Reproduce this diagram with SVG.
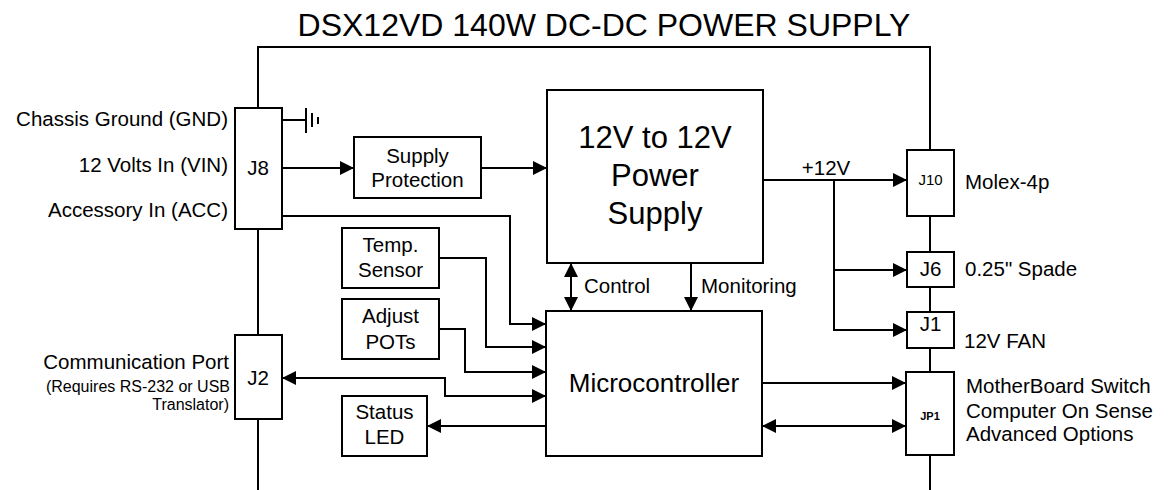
<svg xmlns="http://www.w3.org/2000/svg" width="1169" height="490" viewBox="0 0 1169 490">
<style>
text{font-family:"Liberation Sans",Arial,sans-serif;fill:#000}
.box{fill:#fff;stroke:#000;stroke-width:2}
.ln{fill:none;stroke:#000;stroke-width:2}
.c{text-anchor:middle}
.r{text-anchor:end}
.t20{font-size:20.5px}
.t16{font-size:16px}
</style>
<defs>
<marker id="ah" markerUnits="userSpaceOnUse" markerWidth="15" markerHeight="14" refX="14" refY="7" orient="auto-start-reverse" viewBox="0 0 15 14">
<path d="M0,0 L14,7 L0,14 z" fill="#000"/>
</marker>
</defs>
<rect width="1169" height="490" fill="#fff"/>
<text x="604" y="36" class="c" font-size="32">DSX12VD 140W DC-DC POWER SUPPLY</text>
<g id="connectors">
<path class="ln" d="M258,108 V47 H930 V150"/>
<path class="ln" d="M258,229 V335"/>
<path class="ln" d="M258,419 V490"/>
<path class="ln" d="M930,216 V252"/>
<path class="ln" d="M930,287 V312"/>
<path class="ln" d="M930,348 V372"/>
<path class="ln" d="M930,455 V490"/>
<path class="ln" d="M282,120 H306 M306,108 V133 M312,113 V127 M318,117 V124"/>
<path class="ln" d="M282,168 H354" marker-end="url(#ah)"/>
<path class="ln" d="M481,168 H547" marker-end="url(#ah)"/>
<path class="ln" d="M282,216 H510 V324 H546" marker-end="url(#ah)"/>
<path class="ln" d="M439,258 H486 V347 H546" marker-end="url(#ah)"/>
<path class="ln" d="M439,329 H465 V372 H546" marker-end="url(#ah)"/>
<path class="ln" d="M282,378 H445 V396 H546" marker-start="url(#ah)" marker-end="url(#ah)"/>
<path class="ln" d="M546,426 H427" marker-end="url(#ah)"/>
<path class="ln" d="M571,263 V311" marker-start="url(#ah)" marker-end="url(#ah)"/>
<path class="ln" d="M691,263 V311" marker-end="url(#ah)"/>
<path class="ln" d="M763,180 H907" marker-end="url(#ah)"/>
<path class="ln" d="M834,180 V330 H907" marker-end="url(#ah)"/>
<path class="ln" d="M834,270 H907" marker-end="url(#ah)"/>
<path class="ln" d="M762,383 H906" marker-end="url(#ah)"/>
<path class="ln" d="M762,426 H906" marker-start="url(#ah)" marker-end="url(#ah)"/>
</g>
<g id="labels">
<text x="228" y="126" class="r t20">Chassis Ground (GND)</text>
<text x="228" y="172" class="r t20">12 Volts In (VIN)</text>
<text x="228" y="217" class="r t20">Accessory In (ACC)</text>
<text x="229" y="369" class="r t20">Communication Port</text>
<text x="230" y="392" class="r t16">(Requires RS-232 or USB</text>
<text x="229" y="410" class="r t16">Translator)</text>
<text x="584" y="293" class="t20">Control</text>
<text x="701" y="293" class="t20">Monitoring</text>
<text x="826" y="175" class="c t20">+12V</text>
<text x="965" y="189" class="t20">Molex-4p</text>
<text x="965" y="276" class="t20">0.25" Spade</text>
<text x="964" y="348" class="t20">12V FAN</text>
<text x="966" y="393" class="t20">MotherBoard Switch</text>
<text x="966" y="418" class="t20">Computer On Sense</text>
<text x="966" y="441" class="t20">Advanced Options</text>
</g>
<g id="J8"><rect class="box" x="235" y="108" width="47" height="121"/><text x="258" y="175" class="c t20">J8</text></g>
<g id="J2"><rect class="box" x="235" y="335" width="47" height="84"/><text x="258" y="385" class="c t20">J2</text></g>
<g id="supply-protection"><rect class="box" x="354" y="137" width="127" height="61"/><text x="417.5" y="163" class="c t20">Supply</text><text x="417.5" y="187" class="c t20">Protection</text></g>
<g id="power-supply"><rect class="box" x="547" y="90" width="216" height="173"/><text x="655" y="148" class="c" font-size="31">12V to 12V</text><text x="655" y="186" class="c" font-size="31">Power</text><text x="655" y="224" class="c" font-size="31">Supply</text></g>
<g id="temp-sensor"><rect class="box" x="342" y="228" width="97" height="60"/><text x="390.5" y="252" class="c t20">Temp.</text><text x="390.5" y="277" class="c t20">Sensor</text></g>
<g id="adjust-pots"><rect class="box" x="342" y="299" width="97" height="60"/><text x="390.5" y="323" class="c t20">Adjust</text><text x="390.5" y="349" class="c t20">POTs</text></g>
<g id="status-led"><rect class="box" x="342" y="396" width="85" height="60"/><text x="384.5" y="419" class="c t20">Status</text><text x="384.5" y="444" class="c t20">LED</text></g>
<g id="microcontroller"><rect class="box" x="546" y="311" width="216" height="145"/><text x="654" y="392" class="c" font-size="26">Microcontroller</text></g>
<g id="J10"><rect class="box" x="907" y="150" width="47" height="66"/><text x="930.5" y="185" class="c" font-size="15">J10</text></g>
<g id="J6"><rect class="box" x="907" y="252" width="47" height="35"/><text x="930.5" y="276" class="c t20">J6</text></g>
<g id="J1"><rect class="box" x="907" y="312" width="47" height="36"/><text x="930.5" y="331" class="c t20">J1</text></g>
<g id="JP1"><rect class="box" x="906" y="372" width="48" height="83"/><text x="930" y="420" class="c" font-size="11" font-weight="bold">JP1</text></g>
</svg>
